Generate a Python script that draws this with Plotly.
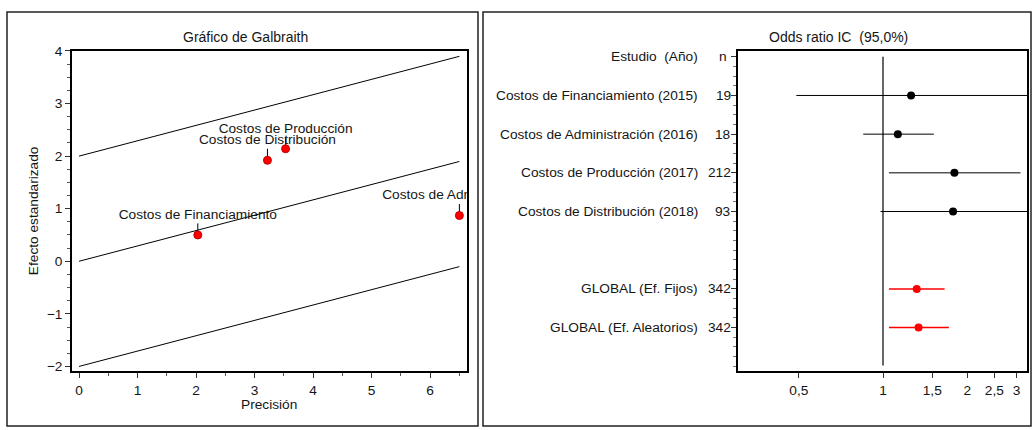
import math
import plotly.graph_objects as go

# ---------------- Galbraith data ----------------
gal_labels = ["Costos de Financiamiento", "Costos de Distribución",
              "Costos de Producción", "Costos de Administración"]
gal_precision = [2.03, 3.22, 3.53, 6.50]
gal_z = [0.50, 1.92, 2.14, 0.87]
pooled_log_or = 0.292
gal_x_ticks = [0, 1, 2, 3, 4, 5, 6]
gal_y_ticks = [-2, -1, 0, 1, 2, 3, 4]

# ---------------- Forest data ----------------
row_labels = ["Estudio  (Año)", "Costos de Financiamiento (2015)",
              "Costos de Administración (2016)", "Costos de Producción (2017)",
              "Costos de Distribución (2018)", "GLOBAL (Ef. Fijos)",
              "GLOBAL (Ef. Aleatorios)"]
row_n = ["n", "19", "18", "212", "93", "342", "342"]
row_pos = [0, 1, 2, 3, 4, 6, 7]
study_or = [1.26, 1.13, 1.80, 1.78]
study_low = [0.49, 0.85, 1.05, 0.98]
study_high = [3.35, 1.52, 3.10, 3.34]
global_or = [1.32, 1.34]
global_low = [1.05, 1.05]
global_high = [1.66, 1.72]
or_ticks = [0.5, 1, 1.5, 2, 2.5, 3]
or_tick_text = ["0,5", "1", "1,5", "2", "2,5", "3"]

W, H = 1033, 430
def px(x):
    return x / W
def py(y):
    return 1 - y / H

FONT = "Arial, Liberation Sans, sans-serif"
TXT = "#151515"
FS = 13.7

fig = go.Figure()

# Galbraith lines
xmax = max(gal_precision)
for off in (2, 0, -2):
    fig.add_trace(go.Scatter(x=[0, xmax], y=[off, off + pooled_log_or * xmax],
                             mode="lines", line=dict(color="black", width=1),
                             xaxis="x", yaxis="y", showlegend=False, hoverinfo="skip"))

# pointers
pxs, pys = [], []
for p, z in zip(gal_precision, gal_z):
    pxs += [p, p, None]
    pys += [z + 0.05, z + 0.22, None]
fig.add_trace(go.Scatter(x=pxs, y=pys, mode="lines", line=dict(color="black", width=1),
                         xaxis="x", yaxis="y", showlegend=False, hoverinfo="skip"))

# points
fig.add_trace(go.Scatter(x=gal_precision, y=gal_z, mode="markers",
                         marker=dict(color="#ff0000", size=8, line=dict(color="#c00000", width=1)),
                         xaxis="x", yaxis="y", showlegend=False))

# labels (clipped at axis)
fig.add_trace(go.Scatter(x=gal_precision, y=[z + 0.37 for z in gal_z], mode="text",
                         text=gal_labels, textposition="middle center",
                         textfont=dict(family=FONT, size=FS, color=TXT),
                         cliponaxis=True, xaxis="x", yaxis="y", showlegend=False,
                         hoverinfo="skip"))

# Forest: study CIs
sx, sy = [], []
for lo, hi, r in zip(study_low, study_high, row_pos[1:5]):
    sx += [lo, hi, None]
    sy += [r, r, None]
fig.add_trace(go.Scatter(x=sx, y=sy, mode="lines", line=dict(color="black", width=1),
                         xaxis="x2", yaxis="y2", showlegend=False, hoverinfo="skip"))
fig.add_trace(go.Scatter(x=study_or, y=row_pos[1:5], mode="markers",
                         marker=dict(color="black", size=8),
                         xaxis="x2", yaxis="y2", showlegend=False))
gx, gy = [], []
for lo, hi, r in zip(global_low, global_high, row_pos[5:]):
    gx += [lo, hi, None]
    gy += [r, r, None]
fig.add_trace(go.Scatter(x=gx, y=gy, mode="lines", line=dict(color="#ff0000", width=1.5),
                         xaxis="x2", yaxis="y2", showlegend=False, hoverinfo="skip"))
fig.add_trace(go.Scatter(x=global_or, y=row_pos[5:], mode="markers",
                         marker=dict(color="#ff0000", size=8),
                         xaxis="x2", yaxis="y2", showlegend=False))

# Forest row label annotations
ann = []
for i, (lab, n, r) in enumerate(zip(row_labels, row_n, row_pos)):
    ann.append(dict(text=lab, x=px(700), y=r, xref="paper", yref="y2",
                    xanchor="right", yanchor="middle", showarrow=False,
                    font=dict(family=FONT, size=FS, color=TXT)))
    ann.append(dict(text=n, x=px(729 if i == 0 else 733), y=r, xref="paper", yref="y2",
                    xanchor="right", yanchor="middle", showarrow=False,
                    font=dict(family=FONT, size=FS, color=TXT)))

ann += [
    dict(text="Gráfico de Galbraith", x=px(245), y=py(31), xref="paper", yref="paper",
         xanchor="center", yanchor="middle", showarrow=False,
         font=dict(family=FONT, size=14, color=TXT)),
    dict(text="Odds ratio IC  (95,0%)", x=px(838), y=py(31), xref="paper", yref="paper",
         xanchor="center", yanchor="middle", showarrow=False,
         font=dict(family=FONT, size=14, color=TXT)),
    dict(text="Efecto estandarizado", x=px(33), y=py(209), xref="paper", yref="paper",
         xanchor="center", yanchor="middle", textangle=-90, showarrow=False,
         font=dict(family=FONT, size=FS, color=TXT)),
    dict(text="Precisión", x=px(269), y=py(407), xref="paper", yref="paper",
         xanchor="center", yanchor="middle", showarrow=False,
         font=dict(family=FONT, size=FS, color=TXT)),
]

shapes = [
    dict(type="rect", xref="paper", yref="paper", x0=px(7), x1=px(478), y0=py(429), y1=py(5),
         line=dict(color="#222", width=1.5)),
    dict(type="rect", xref="paper", yref="paper", x0=px(483), x1=px(1031), y0=py(429), y1=py(5),
         line=dict(color="#222", width=1.5)),
    dict(type="line", xref="x2", yref="y2", x0=1, x1=1, y0=0, y1=7.98,
         line=dict(color="black", width=1.2)),
]

ln_k = 121.5
x2_left = math.log10(math.exp((738 - 883) / ln_k))
x2_right = math.log10(math.exp((1027 - 883) / ln_k))

axis_common = dict(showline=True, linecolor="black", linewidth=2, mirror=True,
                   showgrid=False, zeroline=False, ticks="outside", ticklen=5,
                   tickcolor="#333", tickwidth=1,
                   tickfont=dict(family=FONT, size=FS, color=TXT))

fig.update_layout(
    width=W, height=H, autosize=False,
    margin=dict(l=0, r=0, t=0, b=0),
    paper_bgcolor="white", plot_bgcolor="white",
    font=dict(family=FONT, size=FS, color=TXT),
    xaxis=dict(domain=[px(72), px(467)], anchor="y", range=[-0.12, 6.63],
               tickvals=gal_x_ticks,
               minor=dict(dtick=0.5, tick0=0, ticks="outside", ticklen=3, tickcolor="#555"),
               **axis_common),
    yaxis=dict(domain=[py(373), py(45)], anchor="x", range=[-2.093, 4.0],
               tickvals=gal_y_ticks,
               minor=dict(dtick=0.25, tick0=0, ticks="outside", ticklen=3, tickcolor="#555"),
               **axis_common),
    xaxis2=dict(domain=[px(738), px(1027)], anchor="y2", type="log",
                range=[x2_left, x2_right], tickvals=or_ticks, ticktext=or_tick_text,
                **axis_common),
    yaxis2=dict(domain=[py(373), py(45)], anchor="x2", range=[8.13, -0.15],
                tickvals=row_pos, showticklabels=False,
                minor=dict(dtick=0.25, tick0=0, ticks="outside", ticklen=3, tickcolor="#777"),
                **axis_common),
    annotations=ann, shapes=shapes,
)

fig.write_html("out.html", config={"displayModeBar": False},
               post_script="document.body.style.margin='0px';document.body.style.overflow='hidden';")
